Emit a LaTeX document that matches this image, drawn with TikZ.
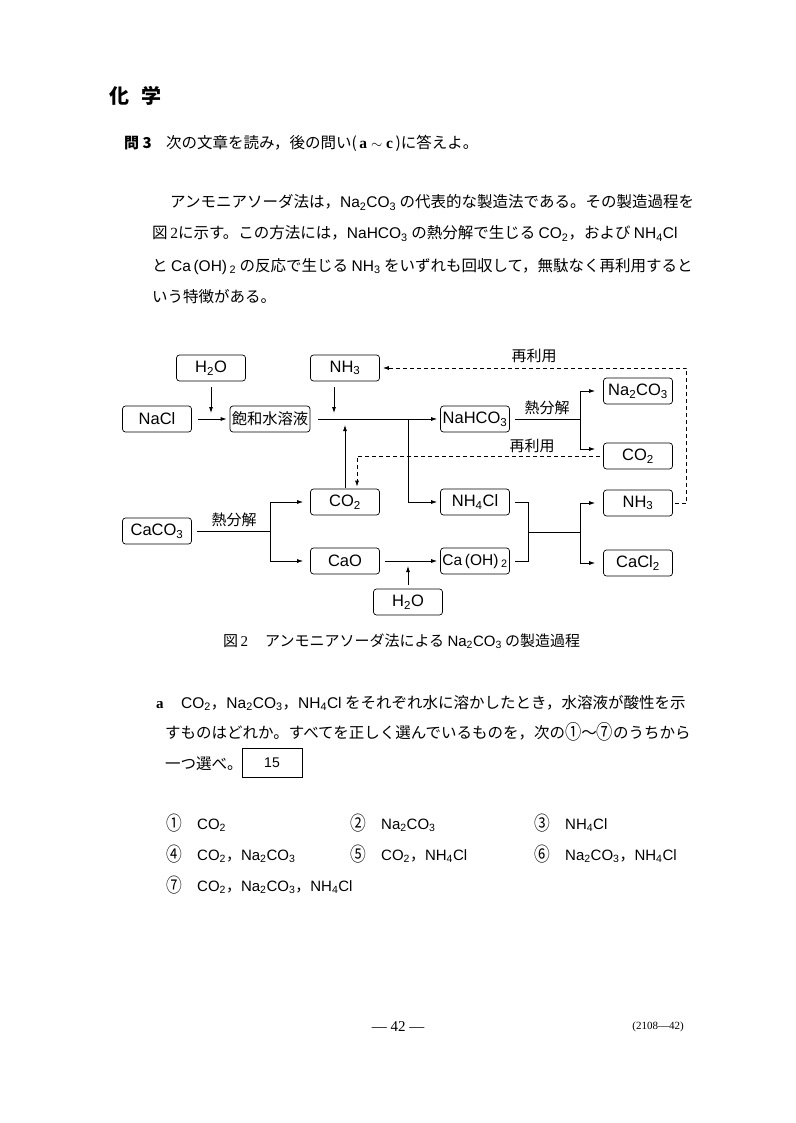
\documentclass[tikz,border=0pt]{standalone}
\usepackage{fontspec}
\setmainfont{Liberation Sans}
\newfontfamily\jp{Noto Sans CJK JP}
\newfontfamily\rmser{Liberation Serif}
\usetikzlibrary{arrows.meta}
\newcommand\ch[1]{{\rmfamily #1}}
\newcommand\cnum[1]{\raisebox{-0.12em}{\scalebox{1.05}[1.3]{{\jp #1}}}}
\begin{document}
\begin{tikzpicture}[x=1pt,y=-1pt,
  box/.style={draw, rounded corners=3pt, line width=0.7pt, minimum width=69pt, minimum height=26pt, inner sep=1pt, font=\fontsize{16.5}{18}\selectfont},
  ln/.style={line width=0.8pt},
  tip/.style={-{Latex[length=6pt,width=4pt]}},
  arr/.style={ln, tip},
  dsh/.style={ln, dash pattern=on 4pt off 3pt},
  jt/.style={font=\jp\fontsize{15.5}{18}\selectfont, inner sep=0pt, anchor=base west},
  opt/.style={font=\fontsize{15}{17}\selectfont, inner sep=0pt, anchor=base west},
  lbl/.style={font=\jp\fontsize{15}{18}\selectfont, inner sep=0pt}
]
\path[use as bounding box, fill=white] (0,0) rectangle (795,1123);

% heading and text
\node[font=\jp\bfseries\fontsize{20}{24}\selectfont, inner sep=0pt, anchor=base west] (head) at (109,104) {化\hspace{12pt}学};
\node[font=\jp\bfseries\fontsize{15}{18}\selectfont, inner sep=0pt, anchor=base west] (q3) at (124,149) {問 3};
\node[jt] (q3t) at (166,149) {次の文章を読み，後の問い(\,{\rmser\bfseries a $\sim$ c}\,)に答えよ。};

\node[jt] (p1) at (170,208) {アンモニアソーダ法は，\ch{Na\textsubscript{2}CO\textsubscript{3}} の代表的な製造法である。その製造過程を};
\node[jt] (p2) at (152,239) {図{\rmser\,2}に示す。この方法には，\ch{NaHCO\textsubscript{3}} の熱分解で生じる \ch{CO\textsubscript{2}}，および \ch{NH\textsubscript{4}Cl}};
\node[jt] (p3) at (152,271) {と \ch{Ca\,(OH)\,\textsubscript{2}} の反応で生じる \ch{NH\textsubscript{3}} をいずれも回収して，無駄なく再利用すると};
\node[jt] (p4) at (152,302) {いう特徴がある。};

% diagram boxes
\node[box] (h2o) at (211,368) {H\textsubscript{2}O};
\node[box] (nh3t) at (345,368) {NH\textsubscript{3}};
\node[box] (nacl) at (157,419) {NaCl};
\node[box, minimum width=80pt, inner sep=0.5pt, font=\jp\fontsize{15.3}{17}\selectfont] (sat) at (270,419) {飽和水溶液};
\node[box] (nahco3) at (475,419) {NaHCO\textsubscript{3}};
\node[box] (na2co3) at (638,391) {Na\textsubscript{2}CO\textsubscript{3}};
\node[box] (co2r) at (638,456) {CO\textsubscript{2}};
\node[box] (co2m) at (345,502) {CO\textsubscript{2}};
\node[box] (nh4cl) at (475,502) {NH\textsubscript{4}Cl};
\node[box] (nh3r) at (638,503) {NH\textsubscript{3}};
\node[box] (caco3) at (157,531) {CaCO\textsubscript{3}};
\node[box] (cao) at (345,561) {CaO};
\node[box, font=\fontsize{15.5}{17}\selectfont] (caoh2) at (475,561) {Ca\,(OH)\,\textsubscript{2}};
\node[box] (cacl2) at (638,563) {CaCl\textsubscript{2}};
\node[box] (h2ob) at (408,602) {H\textsubscript{2}O};

% labels
\node[lbl] (l1) at (534,356) {再利用};
\node[lbl] (l2) at (532,446) {再利用};
\node[lbl] (l3) at (547,408) {熱分解};
\node[lbl] (l4) at (234,520) {熱分解};

% connectors
\draw[arr, shorten <=6pt, shorten >=3pt] (nacl) -- (sat);
\draw[arr, shorten <=6pt, shorten >=6pt] (h2o) -- (h2o |- nacl);
\draw[arr, shorten <=6pt, shorten >=6pt] ([xshift=-11pt]nh3t.south) -- ([xshift=-11pt]nh3t.south |- sat);
\draw[arr, shorten <=8pt, shorten >=3pt] (sat) -- (nahco3);
\coordinate (j1) at (408,419);
\draw[arr, shorten >=3pt] (j1) |- (nh4cl);
\draw[arr, shorten <=1pt, shorten >=6pt] (co2m) -- (co2m |- sat);
\draw[dsh, tip, shorten <=3pt, shorten >=2pt] (co2r.west) -| ([xshift=12pt]co2m.north);
\draw[dsh, tip, shorten <=2pt, shorten >=3pt] (nh3r.east) -- ++(14,0) |- (nh3t.east);

\coordinate (s1) at (580,419);
\draw[ln, shorten <=5pt] (nahco3) -- (s1);
\draw[arr, shorten >=8pt] (s1) |- (na2co3.west);
\draw[arr, shorten >=8pt] (s1) |- ([yshift=7pt]co2r.west);

\coordinate (s2) at (270,531);
\draw[ln, shorten <=5pt] (caco3) -- (s2);
\draw[arr, shorten >=7pt] (s2) |- (co2m.west);
\draw[arr, shorten >=7pt] (s2) |- (cao.west);
\draw[arr, shorten <=5pt, shorten >=3pt] (cao) -- (caoh2);
\draw[arr, shorten <=4pt, shorten >=5pt] (h2ob) -- (h2ob |- caoh2);

\draw[ln, shorten <=5pt, shorten >=5pt] (nh4cl.east) -- ++(19,0) |- (caoh2.east);
\coordinate (m1) at (529,532);
\coordinate (s3) at (580,532);
\draw[ln] (m1) -- (s3);
\draw[arr, shorten >=8pt] (s3) |- (nh3r.west);
\draw[arr, shorten >=8pt] (s3) |- (cacl2.west);

% caption
\node[jt, font=\jp\fontsize{15}{18}\selectfont] (cap) at (223,646) {図{\rmser\,2}\hspace{17pt}アンモニアソーダ法による \ch{Na\textsubscript{2}CO\textsubscript{3}} の製造過程};

% question a
\node[font=\rmser\bfseries\fontsize{15}{18}\selectfont, inner sep=0pt, anchor=base west] (qa) at (156,708) {a};
\node[jt] (a1) at (181,708) {\ch{CO\textsubscript{2}}，\ch{Na\textsubscript{2}CO\textsubscript{3}}，\ch{NH\textsubscript{4}Cl} をそれぞれ水に溶かしたとき，水溶液が酸性を示};
\node[jt] (a2) at (165,738) {すものはどれか。すべてを正しく選んでいるものを，次の\cnum{①}～\cnum{⑦}のうちから};
\node[jt] (a3) at (165,769) {一つ選べ。};
\node[draw, line width=1pt, minimum width=60pt, minimum height=29pt, font=\fontsize{14}{16}\selectfont] (ans) at (272,763) {15};

% options
\node[opt] (o1) at (166,829) {\cnum{①}};
\node[opt] (t1) at (197,829) {CO\textsubscript{2}};
\node[opt] (o2) at (350,829) {\cnum{②}};
\node[opt] (t2) at (381,829) {Na\textsubscript{2}CO\textsubscript{3}};
\node[opt] (o3) at (534,829) {\cnum{③}};
\node[opt] (t3) at (565,829) {NH\textsubscript{4}Cl};
\node[opt] (o4) at (166,860) {\cnum{④}};
\node[opt] (t4) at (197,860) {CO\textsubscript{2}{\jp ，}Na\textsubscript{2}CO\textsubscript{3}};
\node[opt] (o5) at (350,860) {\cnum{⑤}};
\node[opt] (t5) at (381,860) {CO\textsubscript{2}{\jp ，}NH\textsubscript{4}Cl};
\node[opt] (o6) at (534,860) {\cnum{⑥}};
\node[opt] (t6) at (565,860) {Na\textsubscript{2}CO\textsubscript{3}{\jp ，}NH\textsubscript{4}Cl};
\node[opt] (o7) at (166,891) {\cnum{⑦}};
\node[opt] (t7) at (197,891) {CO\textsubscript{2}{\jp ，}Na\textsubscript{2}CO\textsubscript{3}{\jp ，}NH\textsubscript{4}Cl};

% footer
\node[font=\rmser\fontsize{15}{18}\selectfont] (pg) at (398,1027) {— 42 —};
\node[font=\rmser\fontsize{11}{13}\selectfont] (code) at (658,1027) {(2108—42)};
\end{tikzpicture}
\end{document}
